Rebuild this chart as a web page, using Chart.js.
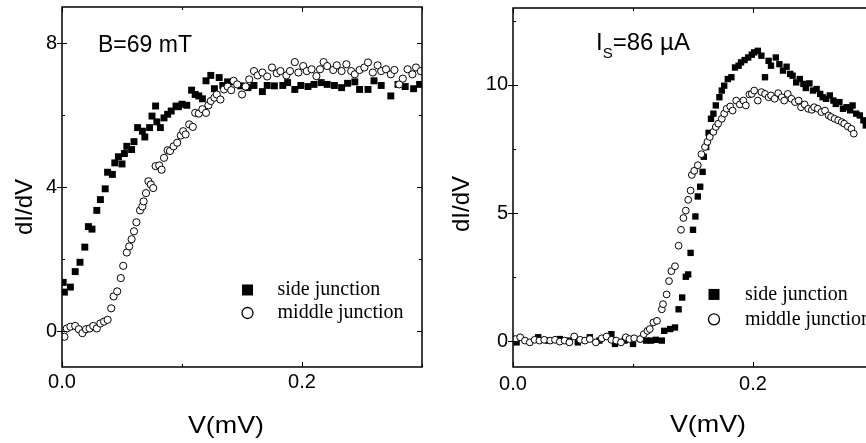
<!DOCTYPE html>
<html>
<head>
<meta charset="utf-8">
<script src="https://cdn.jsdelivr.net/npm/chart.js@4.4.1/dist/chart.umd.min.js"></script>
<style>
  html, body { margin: 0; padding: 0; background: #fff; overflow: hidden; width: 866px; height: 443px; }
  #chart-1 { position: absolute; left: 0; top: 0; }
  #chart-2 { position: absolute; left: 433px; top: 0; }
</style>
</head>
<body>
<canvas id="chart-1" width="433" height="443"></canvas>
<canvas id="chart-2" width="450" height="443"></canvas>
<script>
const SANS = "'Liberation Sans', Arial, sans-serif";
const SERIF = "'Liberation Serif', 'Times New Roman', serif";

// ticks
const xTicks = [0, 0.2];
const xMinor = [0.1, 0.3];
const leftYTicks = [0, 4, 8];
const leftYMinor = [2, 6];
const rightYTicks = [0, 5, 10];
const rightYMinor = [2.5, 7.5, 12.5];

// left panel, B = 69 mT
const leftSideV = [0.001, 0.002, 0.007, 0.011, 0.015, 0.019, 0.022, 0.025, 0.029, 0.032, 0.036, 0.038, 0.042, 0.044,
  0.047, 0.050, 0.052, 0.054, 0.058, 0.060, 0.063, 0.067, 0.069, 0.073, 0.075, 0.078, 0.079, 0.082, 0.085, 0.088,
  0.091, 0.095, 0.097, 0.100, 0.104, 0.108, 0.111, 0.114, 0.117, 0.120, 0.124, 0.127, 0.131, 0.134, 0.138, 0.143,
  0.149, 0.155, 0.160, 0.167, 0.171, 0.177, 0.184, 0.188, 0.194, 0.199, 0.205, 0.210, 0.216, 0.221, 0.227, 0.233,
  0.238, 0.244, 0.248, 0.255, 0.260, 0.266, 0.274, 0.280, 0.286, 0.293, 0.298];
const leftSideG = [1.35, 1.08, 1.22, 1.65, 1.91, 2.33, 2.90, 2.83, 3.35, 3.65, 3.95, 4.41, 4.35, 4.67,
  4.84, 4.64, 4.93, 5.13, 5.04, 5.26, 5.65, 5.55, 5.39, 5.65, 5.97, 6.25, 5.81, 5.65, 5.92, 6.02,
  6.11, 6.25, 6.23, 6.30, 6.27, 6.69, 6.57, 6.53, 6.45, 6.95, 7.10, 6.73, 7.04, 6.82, 6.92, 6.92,
  6.81, 6.76, 6.82, 6.65, 6.82, 6.81, 6.82, 6.90, 6.71, 6.82, 6.79, 6.85, 6.90, 6.85, 6.82, 6.76,
  6.88, 6.92, 6.71, 6.71, 6.95, 6.82, 6.53, 6.85, 6.79, 6.73, 6.85];
const leftMidV = [0.002, 0.004, 0.007, 0.011, 0.014, 0.017, 0.020, 0.023, 0.026, 0.029, 0.032, 0.035, 0.038, 0.041,
  0.043, 0.046, 0.049, 0.051, 0.054, 0.056, 0.058, 0.060, 0.062, 0.065, 0.067, 0.068, 0.070, 0.072, 0.074, 0.076,
  0.078, 0.081, 0.083, 0.085, 0.088, 0.090, 0.093, 0.096, 0.099, 0.101, 0.103, 0.106, 0.109, 0.111, 0.114, 0.117,
  0.120, 0.122, 0.124, 0.127, 0.129, 0.132, 0.135, 0.138, 0.141, 0.143, 0.146, 0.150, 0.153, 0.156, 0.160, 0.163,
  0.167, 0.171, 0.175, 0.179, 0.182, 0.187, 0.190, 0.194, 0.197, 0.201, 0.204, 0.208, 0.212, 0.215, 0.218, 0.221,
  0.226, 0.229, 0.233, 0.237, 0.241, 0.244, 0.248, 0.252, 0.255, 0.259, 0.263, 0.266, 0.270, 0.274, 0.277, 0.281,
  0.284, 0.288, 0.292, 0.295, 0.299];
const leftMidG = [-0.16, 0.07, 0.12, 0.14, 0.05, -0.06, 0.05, 0.07, 0.14, 0.07, 0.21, 0.26, 0.31, 0.63,
  0.96, 1.10, 1.47, 1.81, 2.18, 2.35, 2.55, 2.77, 3.02, 3.35, 3.46, 3.60, 3.83, 4.16, 4.07, 3.97,
  4.58, 4.60, 4.48, 4.81, 5.02, 5.00, 5.13, 5.23, 5.43, 5.55, 5.46, 5.74, 5.67, 6.06, 6.04, 6.16,
  6.06, 6.27, 6.39, 6.48, 6.57, 6.43, 6.71, 6.79, 6.69, 6.95, 6.85, 6.57, 6.79, 6.99, 7.22, 7.10,
  7.18, 7.07, 7.32, 7.16, 7.22, 7.10, 7.22, 7.47, 7.18, 7.36, 7.22, 7.27, 7.08, 7.27, 7.47, 7.36,
  7.25, 7.38, 7.22, 7.41, 7.22, 7.13, 7.25, 7.32, 7.46, 7.18, 7.38, 7.22, 7.27, 7.13, 7.25, 6.85,
  7.01, 7.27, 7.13, 7.32, 7.22];

// right panel, Is = 86 uA
const rightSideV = [0.003, 0.021, 0.029, 0.039, 0.047, 0.054, 0.064, 0.072, 0.082, 0.085, 0.093, 0.100, 0.107, 0.111,
  0.115, 0.119, 0.124, 0.126, 0.131, 0.135, 0.138, 0.141, 0.144, 0.146, 0.148, 0.150, 0.152, 0.154, 0.156, 0.158,
  0.159, 0.161, 0.163, 0.165, 0.167, 0.169, 0.172, 0.174, 0.176, 0.179, 0.182, 0.185, 0.188, 0.190, 0.193, 0.196,
  0.199, 0.201, 0.204, 0.207, 0.210, 0.213, 0.215, 0.219, 0.222, 0.225, 0.228, 0.231, 0.233, 0.236, 0.239, 0.242,
  0.244, 0.247, 0.250, 0.253, 0.256, 0.258, 0.261, 0.264, 0.267, 0.269, 0.272, 0.275, 0.278, 0.281, 0.283, 0.286,
  0.289, 0.292, 0.294];
const rightSideG = [-0.04, 0.16, 0.03, 0.09, 0.03, -0.04, 0.16, 0.03, 0.28, -0.10, 0.03, -0.10, 0.09, 0.03,
  0.03, 0.06, 0.03, 0.41, 0.48, 0.54, 1.25, 1.71, 2.52, 2.61, 3.45, 4.35, 4.87, 5.65, 6.03, 6.61,
  7.20, 7.58, 8.13, 8.68, 8.88, 9.20, 9.52, 9.78, 9.97, 10.23, 10.30, 10.68, 10.75, 10.88, 10.97, 11.07,
  11.18, 11.27, 11.33, 11.14, 10.30, 10.94, 10.75, 11.07, 10.81, 10.56, 10.71, 10.43, 10.36, 10.10, 10.23, 10.04,
  9.88, 10.06, 9.78, 9.84, 9.65, 9.52, 9.46, 9.59, 9.39, 9.26, 9.33, 9.07, 9.13, 9.01, 9.20, 8.88,
  8.81, 8.62, 8.42];
const rightMidV = [0.002, 0.006, 0.010, 0.014, 0.018, 0.022, 0.026, 0.031, 0.035, 0.039, 0.043, 0.047, 0.051, 0.056,
  0.060, 0.064, 0.069, 0.074, 0.078, 0.082, 0.086, 0.090, 0.094, 0.097, 0.101, 0.106, 0.109, 0.112, 0.114, 0.117,
  0.120, 0.124, 0.125, 0.128, 0.130, 0.132, 0.135, 0.138, 0.140, 0.142, 0.144, 0.146, 0.148, 0.149, 0.151, 0.154,
  0.157, 0.160, 0.162, 0.164, 0.167, 0.169, 0.171, 0.174, 0.176, 0.178, 0.181, 0.183, 0.186, 0.189, 0.192, 0.194,
  0.197, 0.199, 0.201, 0.204, 0.207, 0.210, 0.213, 0.215, 0.218, 0.221, 0.224, 0.226, 0.229, 0.232, 0.235, 0.238,
  0.240, 0.243, 0.246, 0.249, 0.251, 0.254, 0.257, 0.260, 0.263, 0.265, 0.268, 0.271, 0.274, 0.276, 0.279, 0.282,
  0.284];
const rightMidG = [0.09, 0.16, 0.03, -0.04, 0.06, 0.03, 0.06, 0.03, 0.06, -0.01, 0.03, -0.04, 0.19, 0.06,
  0.03, 0.09, -0.04, 0.12, 0.19, 0.06, 0.03, -0.04, 0.16, 0.09, 0.12, 0.09, 0.28, 0.41, 0.48, 0.74,
  0.80, 1.25, 1.45, 1.83, 2.35, 2.74, 2.93, 3.73, 4.35, 4.81, 5.10, 5.52, 5.88, 6.49, 6.65, 6.87,
  7.30, 7.58, 7.78, 7.97, 8.17, 8.36, 8.49, 8.68, 8.88, 9.07, 9.16, 9.00, 9.39, 9.24, 9.39, 9.20,
  9.63, 9.65, 9.78, 9.39, 9.72, 9.65, 9.52, 9.59, 9.46, 9.68, 9.52, 9.39, 9.65, 9.46, 9.33, 9.39,
  9.13, 9.24, 9.07, 9.03, 9.13, 9.07, 8.94, 9.00, 8.81, 8.75, 8.68, 8.62, 8.55, 8.49, 8.38, 8.29,
  8.10];

const seriesLabels = ['side junction', 'middle junction'];

const zip = (xs, ys) => xs.map((x, i) => ({ x, y: ys[i] }));

// frame, inward ticks, titles, note and legend
const framePlugin = {
  id: 'frame',
  afterDraw(chart, args, o) {
    const { ctx, chartArea: a, scales: { x, y } } = chart;
    ctx.save();
    ctx.strokeStyle = '#000';
    ctx.lineWidth = 1.5;
    ctx.strokeRect(a.left, a.top, a.right - a.left, a.bottom - a.top);

    ctx.lineWidth = 1;
    ctx.beginPath();
    const xMark = (v, len) => {
      const px = Math.round(x.getPixelForValue(v)) + 0.5;
      ctx.moveTo(px, a.bottom); ctx.lineTo(px, a.bottom - len);
      ctx.moveTo(px, a.top); ctx.lineTo(px, a.top + len);
    };
    const yMark = (v, len, out) => {
      const py = Math.round(y.getPixelForValue(v)) + 0.5;
      ctx.moveTo(a.left - out, py); ctx.lineTo(a.left + len, py);
      ctx.moveTo(a.right, py); ctx.lineTo(a.right - len, py);
    };
    xTicks.forEach(v => xMark(v, 5));
    xMinor.forEach(v => xMark(v, 3));
    o.yTicks.forEach(v => yMark(v, 5, 5));
    o.yMinor.forEach(v => yMark(v, 3, 0));
    ctx.stroke();

    ctx.fillStyle = '#000';
    // axis titles (the scan is a little wider than tall)
    ctx.font = '24px ' + SANS;
    ctx.textAlign = 'center';
    ctx.textBaseline = 'middle';
    ctx.save();
    ctx.translate(o.xTitle[0], o.xTitle[1]);
    ctx.scale(1.12, 1);
    ctx.fillText('V(mV)', 0, 0);
    ctx.restore();
    ctx.save();
    ctx.translate(o.yTitle[0], o.yTitle[1]);
    ctx.rotate(-Math.PI / 2);
    ctx.fillText('dI/dV', 0, 0);
    ctx.restore();

    // note
    ctx.textAlign = 'left';
    ctx.textBaseline = 'alphabetic';
    let nx = o.note.x;
    o.note.parts.forEach(p => {
      ctx.font = p.size + 'px ' + SANS;
      ctx.fillText(p.text, nx, o.note.y + (p.dy || 0));
      nx += ctx.measureText(p.text).width;
    });

    // legend
    ctx.font = '20px ' + SERIF;
    ctx.textBaseline = 'middle';
    chart.data.datasets.forEach((ds, i) => {
      const lx = x.getPixelForValue(o.legendX);
      const ly = y.getPixelForValue(o.legendY[i]);
      ctx.beginPath();
      if (ds.pointStyle === 'rect') {
        ctx.fillStyle = '#000';
        ctx.fillRect(lx - 5.5, ly - 5.5, 11, 11);
      } else {
        ctx.arc(lx, ly, 5.5, 0, Math.PI * 2);
        ctx.fillStyle = '#fff';
        ctx.fill();
        ctx.lineWidth = 1.3;
        ctx.stroke();
      }
      ctx.fillStyle = '#000';
      ctx.fillText(ds.label, lx + o.legendGap, ly);
    });
    ctx.restore();
  }
};

function createChart({ id, side, middle, yMin, yMax, yTicks, yMinor, yWidth, pad, tickPad, frame, squareR, circleR }) {
  return new Chart(document.getElementById(id), {
    type: 'scatter',
    data: {
      datasets: [
        { label: seriesLabels[0], data: side, pointStyle: 'rect', pointRadius: squareR,
          backgroundColor: '#000', borderColor: '#000', borderWidth: 0, order: 2 },
        { label: seriesLabels[1], data: middle, pointStyle: 'circle', pointRadius: circleR,
          backgroundColor: '#fff', borderColor: '#000', borderWidth: 1, order: 1 }
      ]
    },
    options: {
      responsive: false,
      animation: false,
      events: [],
      layout: { padding: pad },
      plugins: {
        legend: { display: false },
        tooltip: { enabled: false },
        frame: { yTicks, yMinor, ...frame }
      },
      scales: {
        x: {
          type: 'linear', min: 0, max: 0.3,
          afterBuildTicks: s => { s.ticks = xTicks.map(v => ({ value: v })); },
          afterFit: s => { s.height = 76; s.paddingLeft = 0; s.paddingRight = 0; },
          ticks: { color: '#000', padding: tickPad[1], font: { family: SANS, size: 20 }, callback: v => v.toFixed(1) },
          grid: { display: false, drawTicks: false },
          border: { display: false }
        },
        y: {
          min: yMin, max: yMax,
          afterBuildTicks: s => { s.ticks = yTicks.map(v => ({ value: v })); },
          afterFit: s => { s.width = yWidth; s.paddingTop = 0; s.paddingBottom = 0; },
          ticks: { color: '#000', padding: tickPad[0], font: { family: SANS, size: 20 }, callback: v => String(v) },
          grid: { display: false, drawTicks: false },
          border: { display: false }
        }
      }
    },
    plugins: [framePlugin]
  });
}

createChart({
  id: 'chart-1',
  side: zip(leftSideV, leftSideG),
  middle: zip(leftMidV, leftMidG),
  yMin: -1, yMax: 9, yTicks: leftYTicks, yMinor: leftYMinor,
  yWidth: 62, pad: { top: 7, right: 11, left: 0, bottom: 0 }, tickPad: [5, 3],
  squareR: 4.9, circleR: 3.6,
  frame: {
    xTitle: [226, 426], yTitle: [25, 207],
    note: { x: 98, y: 52, parts: [{ text: 'B=69 mT', size: 23 }] },
    legendX: 0.1546, legendY: [1.14, 0.5], legendGap: 30
  }
});

createChart({
  id: 'chart-2',
  side: zip(rightSideV, rightSideG),
  middle: zip(rightMidV, rightMidG),
  yMin: -1, yMax: 13, yTicks: rightYTicks, yMinor: rightYMinor,
  yWidth: 80, pad: { top: 8, right: 10, left: 0, bottom: 0 }, tickPad: [5, 5],
  squareR: 4.5, circleR: 3.4,
  frame: {
    xTitle: [275, 425], yTitle: [29, 204],
    note: { x: 163, y: 50, parts: [{ text: 'I', size: 24 }, { text: 'S', size: 15, dy: 8 }, { text: '=86 µA', size: 24 }] },
    legendX: 0.1675, legendY: [1.83, 0.86], legendGap: 31
  }
});
</script>
</body>
</html>
